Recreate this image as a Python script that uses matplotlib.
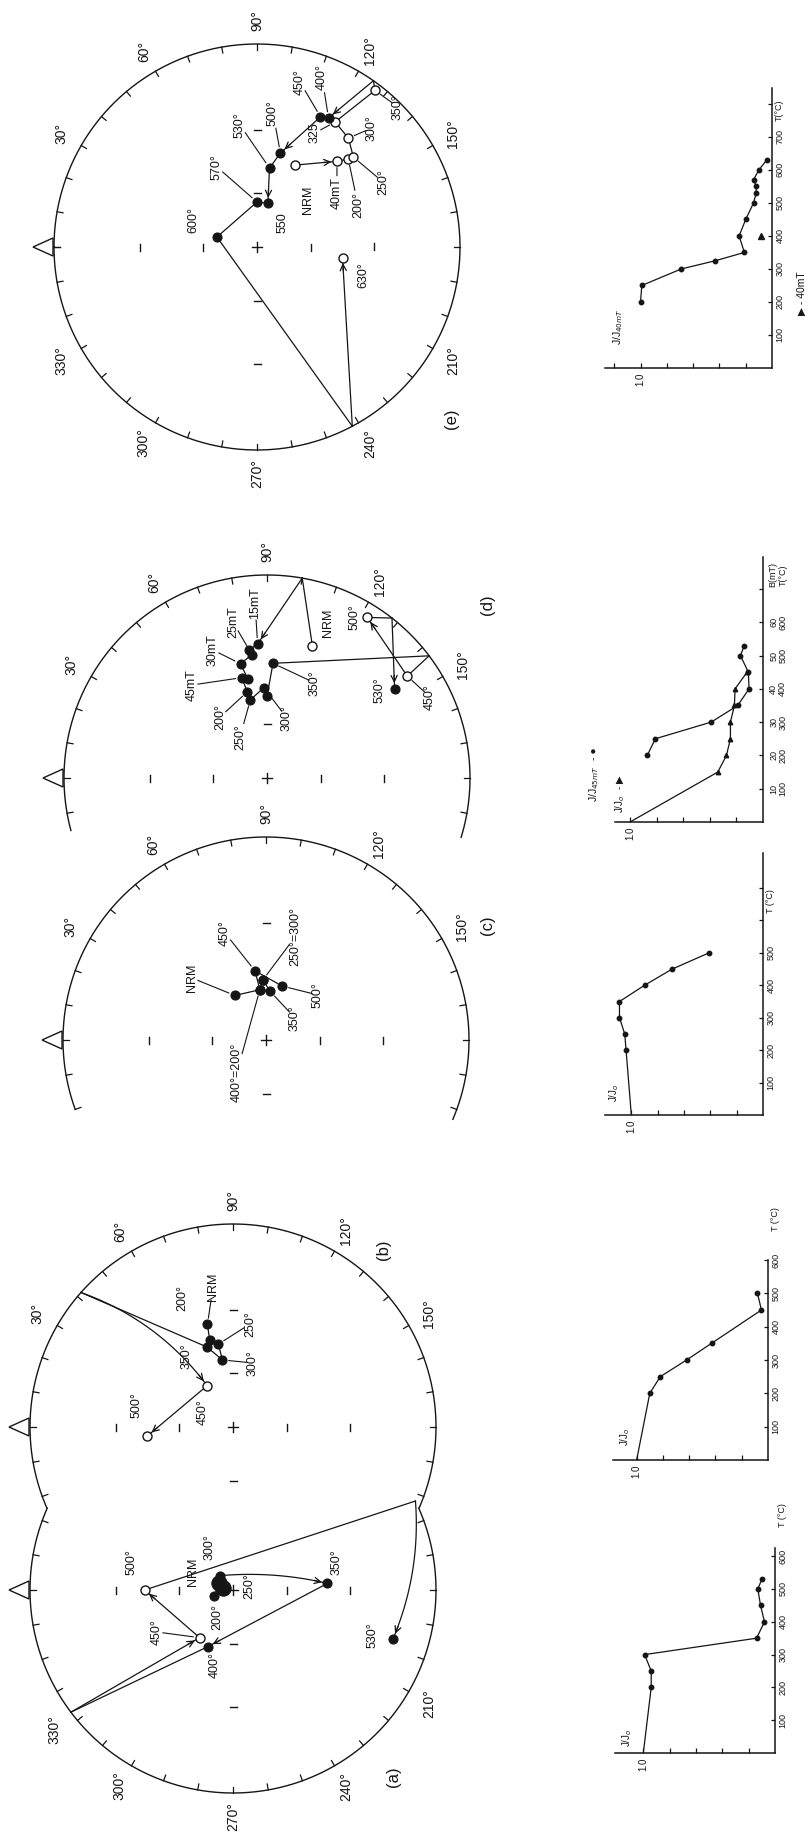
import numpy as np
import matplotlib
matplotlib.use('Agg')
import matplotlib.pyplot as plt
from matplotlib.patches import Polygon

W, H = 808, 1834
plt.rcParams['font.family'] = ['Liberation Sans', 'DejaVu Sans']
plt.rcParams['mathtext.fontset'] = 'dejavusans'
K = '#151515'

# ---------------- DATA: stereonets (dec, inc ; inc<0 = upper hemisphere / open) ----------------
a_steps = ['NRM', '200', '250', '300', '350', '400', '450', '500', '530']
a_dec = [25, 342, 10, 47, 176, 294, 305, 0, 197]
a_inc = [81, 79, 84, 79, 40, 56, -58, -43, 11]
a_path = ['NRM', '200', '250', '300', '350', '400', 323.0, '450', '500', 154.0, '530']
a_arrow_to = ['350', '400', '450', '500', '530']

b_steps = ['NRM', '200', '250', '300', '350', '450', '500']
b_dec = [76, 75, 80, 81, 72, 58, 354]
b_inc = [35, 42, 45, 53, 45, -63, -44]
b_path = ['NRM', '200', '250', '300', '350', 41.5, '450', '500']
b_arrow_to = ['450', '500']

c_steps = ['NRM', '200', '250', '300', '350', '400', '450', '500']
c_dec = [55, 83, 87, 87, 95, 83, 81, 107]
c_inc = [60, 62, 57, 57, 63, 62, 52, 59]
c_path = ['NRM', '200', '250', '300', '350', '400', '450', '500']
c_arrow_to = []

d_steps = ['NRM', '15mT', '20mT', '25mT', '30mT', '40mT', '45mT', '200', '250', '300', '320',
           '350', '450', '500', '530']
d_dec = [109, 86, 82, 83, 77, 79, 76, 77, 78, 88, 90, 93, 144, 122, 145]
d_inc = [-21, 23, 25, 27, 30, 37, 36, 43, 47, 42, 46, 31, -9, -4, 15]
d_path = ['NRM', 100.0, '15mT', '20mT', '25mT', '30mT', '40mT', '45mT', '200', '250', '300',
          '320', '350', 143.0, '450', '500', 128.0, '530']
d_arrow_to = ['15mT', '500', '530']

e_steps = ['NRM', '40mT', '200', '250', '300', '325', '350', '400', '450', '500', '530',
           '550', '570', '600', '630']
e_dec = [115, 133, 136, 137, 130, 122, 127, 119, 116, 104, 99, 104, 90, 14, 187]
e_inc = [-42, -30, -26, -24, -20, -18, -2, 18, 19, 39, 47, 65, 65, 67, -44]
e_path = ['NRM', '40mT', '200', '250', '300', '325', '350', 125.0, '400', '450', '500', '530',
          '550', '570', '600', 242.0, '630']
e_arrow_to = ['40mT', '400', '500', '550', '630']

# ---------------- DATA: intensity decay curves ----------------
ja_T = [0, 200, 250, 300, 350, 400, 450, 500, 530]
ja_J = [1.0, 0.94, 0.94, 0.99, 0.14, 0.08, 0.11, 0.13, 0.10]
jb_T = [0, 200, 250, 300, 350, 450, 500]
jb_J = [1.0, 0.90, 0.82, 0.62, 0.43, 0.05, 0.08]
jc_T = [0, 200, 250, 300, 350, 400, 450, 500]
jc_J = [1.0, 1.04, 1.05, 1.09, 1.09, 0.90, 0.69, 0.41]
jd_B = [0, 15, 20, 25, 30, 35, 40, 45]
jd_J_af = [1.0, 0.34, 0.275, 0.245, 0.245, 0.215, 0.21, 0.12]
jd_T = [200, 250, 300, 350, 400, 450, 500, 530]
jd_J_th = [0.87, 0.81, 0.39, 0.19, 0.105, 0.11, 0.17, 0.14]
je_T = [200, 250, 300, 325, 350, 400, 450, 500, 530, 550, 570, 600, 630]
je_J = [1.0, 0.99, 0.69, 0.43, 0.21, 0.25, 0.20, 0.14, 0.12, 0.12, 0.14, 0.10, 0.04]
je_af_T = [400]
je_af_J = [0.086]

T_ticks = [100, 200, 300, 400, 500, 600, 700, 800]
B_ticks = [10, 20, 30, 40, 50, 60]

# ---------------- layout ----------------
R = 203
fig = plt.figure(figsize=(W / 100, H / 100), dpi=100)
bg = fig.add_axes([0, 0, 1, 1])
bg.set_xlim(0, W)
bg.set_ylim(H, 0)
bg.axis('off')


def proj(dec, inc, cx, cy):
    rho = R * np.tan(np.radians(45 - abs(inc) / 2.0))
    d = np.radians(dec)
    return cx - rho * np.cos(d), cy - rho * np.sin(d)


def curve(p0, p1, bend, n=40):
    p0 = np.array(p0, float)
    p1 = np.array(p1, float)
    d = p1 - p0
    L = np.hypot(*d)
    nrm = np.array([d[1], -d[0]]) / L
    c = (p0 + p1) / 2 + bend * L * nrm
    t = np.linspace(0, 1, n)[:, None]
    return (1 - t) ** 2 * p0 + 2 * (1 - t) * t * c + t ** 2 * p1


def draw_net(steps, dec, inc, path, arrow_to, cx, cy, arc, deg_labels, skip, bends, big, labels,
             label_angle=None):
    label_angle = label_angle or {}
    t = np.radians(np.linspace(arc[0], arc[1], 500))
    bg.plot(cx - R * np.cos(t), cy - R * np.sin(t), color=K, lw=1.0, zorder=2)
    for d in np.arange(np.ceil(arc[0] / 10) * 10, arc[1] + 0.01, 10):
        dr = np.radians(d)
        bg.plot([cx - R * np.cos(dr), cx - (R - 6) * np.cos(dr)],
                [cy - R * np.sin(dr), cy - (R - 6) * np.sin(dr)], color=K, lw=0.9, zorder=2)
    for d in deg_labels:
        dr = np.radians(label_angle.get(d, d))
        bg.text(cx - 1.115 * R * np.cos(dr), cy - 1.115 * R * np.sin(dr), f'{d}°',
                rotation=90, ha='center', va='center', fontsize=10, color=K)
    # north marker
    bg.add_patch(Polygon([(cx - R - 1, cy - 9), (cx - R - 1, cy + 9), (cx - R - 21, cy)],
                         closed=True, fill=False, ec=K, lw=1.0, zorder=2))
    # centre cross
    bg.plot([cx - 5, cx + 5], [cy, cy], color=K, lw=1.0)
    bg.plot([cx, cx], [cy - 5, cy + 5], color=K, lw=1.0)
    # inclination ticks (30 and 60 deg)
    for dd in (0, 90, 180, 270):
        for it in (60, 30):
            if (dd, it) in skip:
                continue
            r = R * np.tan(np.radians(45 - it / 2))
            dr = np.radians(dd)
            px, py = cx - r * np.cos(dr), cy - r * np.sin(dr)
            sx, sy = np.sin(dr), -np.cos(dr)
            bg.plot([px - 3.5 * sx, px + 3.5 * sx], [py - 3.5 * sy, py + 3.5 * sy], color=K, lw=1.0)
    pos = {s: proj(dd, ii, cx, cy) for s, dd, ii in zip(steps, dec, inc)}
    # demagnetisation path
    nodes = [pos[tk] if isinstance(tk, str) else proj(tk, 0, cx, cy) for tk in path]
    for i in range(len(path) - 1):
        key = (str(path[i]), str(path[i + 1]))
        pts = curve(nodes[i], nodes[i + 1], bends.get(key, 0.0))
        bg.plot(pts[:, 0], pts[:, 1], color=K, lw=0.9, zorder=3)
        if isinstance(path[i + 1], str) and path[i + 1] in arrow_to:
            tdir = pts[-1] - pts[-3]
            tdir = tdir / np.hypot(*tdir)
            tip = pts[-1] - tdir * 5.5
            tail = tip - tdir * 8
            bg.annotate('', xy=tip, xytext=tail,
                        arrowprops=dict(arrowstyle='->,head_length=0.45,head_width=0.22',
                                        lw=0.9, color=K, shrinkA=0, shrinkB=0), zorder=4)
    for s, dd, ii in zip(steps, dec, inc):
        x, y = pos[s]
        ms = 11 if s in big else 6.5
        if ii >= 0:
            bg.plot(x, y, 'o', ms=ms, mfc=K, mec=K, mew=0.8, zorder=5)
        else:
            bg.plot(x, y, 'o', ms=ms, mfc='white', mec=K, mew=1.0, zorder=5)
    for txt, s, lx, ly, lead in labels:
        bg.text(lx, ly, txt, rotation=90, ha='center', va='center', fontsize=9, color=K, zorder=6)
        if lead:
            px, py = pos[s]
            dx, dy = px - lx, py - ly
            dist = np.hypot(dx, dy)
            ux, uy = dx / dist, dy / dist
            hx, hy = 6.0, 3.6 * len(txt) + 3
            d0 = 1.0 / np.sqrt((ux / hx) ** 2 + (uy / hy) ** 2)
            d1 = dist - 6.5
            if d1 > d0 + 2:
                bg.plot([lx + ux * d0, lx + ux * d1], [ly + uy * d0, ly + uy * d1],
                        color=K, lw=0.8, zorder=4)


labels_a = [('NRM', 'NRM', 193, 1572, 0), ('200°', '200', 217, 1617, 0), ('250°', '250', 249, 1586, 0),
            ('300°', '300', 210, 1547, 0), ('350°', '350', 337, 1562, 0), ('400°', '400', 215, 1665, 0),
            ('450°', '450', 157, 1632, 1), ('500°', '500', 132, 1562, 0), ('530°', '530', 373, 1635, 0)]
labels_b = [('NRM', 'NRM', 213, 1287, 1), ('200°', '200', 182, 1298, 0), ('250°', '250', 250, 1324, 1),
            ('300°', '300', 253, 1363, 1), ('350°', '350', 187, 1356, 0), ('450°', '450', 203, 1412, 0),
            ('500°', '500', 137, 1405, 0)]
labels_c = [('NRM', 'NRM', 192, 978, 1), ('450°', '450', 225, 933, 1), ('250°=300°', '250', 295, 937, 1),
            ('500°', '500', 318, 995, 1), ('350°', '350', 295, 1018, 1), ('400°=200°', '400', 237, 1072, 1)]
labels_d = [('45mT', '45mT', 192, 685, 1), ('30mT', '30mT', 213, 650, 1), ('25mT', '25mT', 233, 622, 1),
            ('15mT', '15mT', 255, 603, 1), ('NRM', 'NRM', 328, 623, 0), ('350°', '350', 315, 683, 1),
            ('300°', '300', 287, 718, 1), ('250°', '250', 240, 737, 1), ('200°', '200', 220, 717, 1),
            ('500°', '500', 355, 617, 0), ('530°', '530', 380, 690, 0), ('450°', '450', 430, 697, 1)]
labels_e = [('600°', '600', 193, 220, 0), ('570°', '570', 217, 167, 1), ('530°', '530', 240, 125, 1),
            ('500°', '500', 273, 113, 1), ('450°', '450', 300, 82, 1), ('400°', '400', 322, 77, 1),
            ('350°', '350', 398, 107, 1), ('300°', '300', 372, 128, 1), ('250°', '250', 383, 182, 1),
            ('200°', '200', 358, 205, 1), ('40mT', '40mT', 337, 193, 1), ('NRM', 'NRM', 308, 200, 0),
            ('325', '325', 315, 133, 1), ('550', '550', 283, 223, 0), ('630°', '630', 363, 275, 0)]

draw_net(a_steps, a_dec, a_inc, a_path, a_arrow_to, 233, 1590, (156.2, 383.8),
         [210, 240, 270, 300, 330], {(90, 60), (90, 30)}, {('154.0', '530'): 0.12, ('300', '350'): 0.08},
         {'NRM', '250'}, labels_a, label_angle={330: 322})
draw_net(b_steps, b_dec, b_inc, b_path, b_arrow_to, 233, 1427, (-23.5, 203.5),
         [30, 60, 90, 120, 150], {(270, 30)}, {('41.5', '450'): 0.15}, set(), labels_b)
draw_net(c_steps, c_dec, c_inc, c_path, c_arrow_to, 266, 1040, (-20, 203),
         [30, 60, 90, 120, 150], {(270, 30), (90, 60)}, {}, set(), labels_c)
draw_net(d_steps, d_dec, d_inc, d_path, d_arrow_to, 267, 778, (-15, 197),
         [30, 60, 90, 120, 150], {(270, 30), (270, 60), (90, 30)}, {}, set(), labels_d)
draw_net(e_steps, e_dec, e_inc, e_path, e_arrow_to, 257, 247, (0, 360),
         [30, 60, 90, 120, 150, 210, 240, 270, 300, 330], set(), {}, set(), labels_e)

for txt, x, y in [('(a)', 393, 1777), ('(b)', 383, 1250), ('(c)', 487, 925), ('(d)', 487, 605), ('(e)', 452, 419)]:
    bg.text(x, y, txt, rotation=90, ha='center', va='center', fontsize=12, color=K)


# ---------------- intensity plots ----------------
def set_tticks(ax, tticks, tlabels, tpad):
    ax.yaxis.set_ticks_position('right')
    ax.set_yticks(tticks)
    ax.set_yticklabels(tlabels, rotation=90, va='center', fontsize=6.5)
    ax.tick_params(axis='y', which='both', direction='in', length=3, width=0.9, pad=tpad, colors=K,
                   left=False, labelleft=False, right=True, labelright=True)


def jaxes(x0, x1, ytop, ybot, jmax, tmax, jticks, tticks, tlabels, tpad=2.5):
    ax = fig.add_axes([x0 / W, 1 - ybot / H, (x1 - x0) / W, (ybot - ytop) / H])
    ax.patch.set_alpha(0)
    ax.set_xlim(jmax, 0)
    ax.set_ylim(0, tmax)
    for s in ('top', 'left'):
        ax.spines[s].set_visible(False)
    for s in ('bottom', 'right'):
        ax.spines[s].set_linewidth(1.1)
        ax.spines[s].set_color(K)
    ax.set_xticks(jticks)
    ax.set_xticklabels(['1.0' if abs(v - 1.0) < 1e-6 else '' for v in jticks], rotation=90, fontsize=7)
    ax.tick_params(axis='x', direction='in', length=3.5, width=0.9, pad=3, colors=K)
    set_tticks(ax, tticks, tlabels, tpad)
    return ax


def tlabel(ax, T, txt, dx=2):
    ax.annotate(txt, xy=(1, T), xycoords=('axes fraction', 'data'), xytext=(dx, 0),
                textcoords='offset points', rotation=90, ha='left', va='center', fontsize=6.5,
                color=K, annotation_clip=False)


def vtext(ax, j, t, txt, fs=7):
    ax.text(j, t, txt, rotation=90, ha='center', va='center', fontsize=fs, color=K, clip_on=False)


jt5 = [0.2, 0.4, 0.6, 0.8, 1.0]
lab = lambda ts, n: [str(t) if t <= n else '' for t in ts]

# (a)
ax = jaxes(615, 775, 1548, 1753, 1.215, 625, jt5, T_ticks[:6], lab(T_ticks[:6], 600))
ax.plot(ja_J, ja_T, '-o', color=K, lw=0.9, ms=3.2, markevery=list(range(1, len(ja_T))))
tlabel(ax, 725, 'T (°C)')
vtext(ax, 1.12, 45, 'J/J$_o$')

# (b)
ax = jaxes(613, 768, 1260, 1460, 1.18, 600, jt5, T_ticks[:6], lab(T_ticks[:6], 600))
ax.plot(jb_J, jb_T, '-o', color=K, lw=0.9, ms=3.2, markevery=list(range(1, len(jb_T))))
tlabel(ax, 724, 'T (°C)')
vtext(ax, 1.09, 69, 'J/J$_o$')

# (c)
ax = jaxes(605, 763, 853, 1115, 1.20, 808, jt5, T_ticks[:7], lab(T_ticks[:7], 500))
ax.plot(jc_J, jc_T, '-o', color=K, lw=0.9, ms=3.2, markevery=list(range(1, len(jc_T))))
tlabel(ax, 660, 'T (°C)')
vtext(ax, 1.13, 68, 'J/J$_o$')

# (d)
ax = jaxes(615, 763, 557, 822, 1.113, 796, jt5, T_ticks[:7], lab(T_ticks[:7], 600), tpad=11)
ax.plot(jd_J_th, jd_T, '-o', color=K, lw=0.9, ms=3.2)
ax2 = ax.twinx()
ax2.set_ylim(0, 79.6)
for s in ax2.spines.values():
    s.set_visible(False)
ax2.set_yticks(B_ticks)
ax2.set_yticklabels([str(b) for b in B_ticks], rotation=90, va='center', fontsize=6.5)
ax2.tick_params(axis='y', length=0, pad=4.5, colors=K)
ax2.plot(jd_J_af, jd_B, '-^', color=K, lw=0.9, ms=3.2, markevery=list(range(1, len(jd_B))))
set_tticks(ax, T_ticks[:7], lab(T_ticks[:7], 600), 11)
ax2.annotate('B(mT)', xy=(1, 74.2), xycoords=('axes fraction', 'data'), xytext=(3.5, 0),
             textcoords='offset points', rotation=90, ha='left', va='center', fontsize=6.5,
             color=K, annotation_clip=False)
tlabel(ax, 742, 'T(°C)', dx=11.5)
vtext(ax, 1.075, 55, 'J/J$_o$')
vtext(ax, 1.075, 118, '- \u25B6', fs=7)
vtext(ax, 1.27, 115, 'J/J$_{45mT}$', fs=7.5)
vtext(ax, 1.27, 205, '- \u25CF', fs=7.5)

# (e)
ax = jaxes(605, 772, 88, 368, 1.27, 848, [0.2, 0.4, 0.6, 0.8, 1.0, 1.2], T_ticks, lab(T_ticks, 700))
ax.plot(je_J, je_T, '-o', color=K, lw=0.9, ms=3.2)
ax.plot(je_af_J, je_af_T, '^', color=K, ms=4)
tlabel(ax, 782, 'T(°C)')
vtext(ax, 1.17, 124, 'J/J$_{40mT}$', fs=7.5)
vtext(ax, -0.23, 227, '\u25B6 - 40mT', fs=7.5)

fig.savefig('out.png', dpi=100)
